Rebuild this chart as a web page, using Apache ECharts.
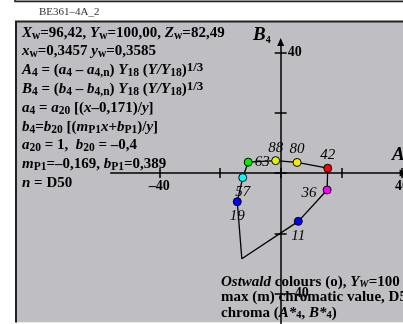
<!DOCTYPE html>
<html><head><meta charset="utf-8">
<script src="https://cdn.jsdelivr.net/npm/echarts@6/dist/echarts.min.js"></script>
<style>html,body{margin:0;padding:0;background:#fff}#c{width:403px;height:324px}</style>
</head><body><div id="c"></div>
<script>
// ---- data ----
const colourLabels = ['63','88','80','42','36','11','','19','57'];
const A4 = [-10.7, -1.65, 5.4, 15.5, 15.3, 5.8, -12.8, -14.3, -12.5];
const B4 = [3.6, 4.1, 3.5, 1.6, -5.6, -16.0, -28.4, -9.5, -1.5];
const hasMarker = [true, true, true, true, true, true, false, true, true];
const tickValues = [-40, -20, 0, 20, 40];
const labelValues = [-40, 40];

// ---- styles ----
const markerColors = ['#00ee00','#e4f200','#f7ec00','#ff0000','#ff00ff','#0000ff',null,'#0000ff','#00ffff'];
const labelPlace = [
  {position:'right', distance:2},
  {position:'top', distance:1},
  {position:'top', distance:1},
  {position:'top', distance:1},
  {position:'left', distance:6, offset:[0,3]},
  {position:'bottom', distance:3},
  null,
  {position:'bottom', distance:2},
  {position:'bottom', distance:2}
];
const GRAY = '#bebec3';
const FONT = 'Liberation Serif';
const fmt = v => labelValues.indexOf(v) < 0 ? '' : (v < 0 ? '\u2013' + (-v) : String(v));

// axis ranges (view extents)
const X_MIN = -56, X_MAX = 40.5, Y_MIN = -50.3, Y_MAX = 43.4;
const GRID = {left:110.7, top:42, width:292.9, height:282.9};
const X0_PX = GRID.left + (0 - X_MIN) / (X_MAX - X_MIN) * GRID.width;
const Y0_PX = GRID.top + (Y_MAX - 0) / (Y_MAX - Y_MIN) * GRID.height;

const chart = echarts.init(document.getElementById('c'), null, {renderer:'canvas'});

const pathData = A4.map((a, i) => [a, B4[i]]);
pathData.push([A4[0], B4[0]]);
const markerData = [];
A4.forEach((a, i) => {
  if (!hasMarker[i]) return;
  const lp = labelPlace[i];
  markerData.push({
    value: [a, B4[i]], name: colourLabels[i],
    itemStyle: {color: markerColors[i]},
    label: Object.assign({show: true}, lp)
  });
});

function richSet(size, subSize, lh, subLh) {
  return {
    i: {fontStyle:'italic', fontWeight:'bold', fontSize:size, fontFamily:FONT, lineHeight:lh, fill:'#000'},
    s: {fontWeight:'bold', fontSize:subSize, fontFamily:FONT, lineHeight:subLh, verticalAlign:'bottom', fill:'#000'},
    is: {fontStyle:'italic', fontWeight:'bold', fontSize:subSize, fontFamily:FONT, lineHeight:subLh, verticalAlign:'bottom', fill:'#000'},
    p: {fontWeight:'bold', fontSize:size-2, fontFamily:FONT, lineHeight:size-3, verticalAlign:'top', fill:'#000'}
  };
}
const rich15 = richSet(15, 11.5, 18, 10);
const richB = richSet(15, 10.5, 16, 9);

const leftLines = [
  '{i|X}{s|w}=96,42, {i|Y}{s|w}=100,00, {i|Z}{s|w}=82,49',
  '{i|x}{s|w}=0,3457 {i|y}{s|w}=0,3585',
  '{i|A}{s|4} = ({i|a}{s|4} \u2013 {i|a}{s|4,n}) {i|Y}{s|18} ({i|Y/Y}{s|18}){p|1/3}',
  '{i|B}{s|4} = ({i|b}{s|4} \u2013 {i|b}{s|4,n}) {i|Y}{s|18} ({i|Y/Y}{s|18}){p|1/3}',
  '{i|a}{s|4} = {i|a}{s|20} [({i|x}\u20130,171)/{i|y}]',
  '{i|b}{s|4}={i|b}{s|20} [({i|m}{s|P1}{i|x}+{i|b}{s|P1})/{i|y}]',
  '{i|a}{s|20} = 1,  {i|b}{s|20} = \u20130,4',
  '{i|m}{s|P1}=\u20130,169, {i|b}{s|P1}=0,389',
  '{i|n} = D50'
];
const bottomLines = [
  '{i|Ostwald} colours (o), {i|Y}{is|W}=100',
  'max (m) chromatic value, D50',
  'chroma ({i|A*}{s|4}, {i|B*}{s|4})'
];

const graphics = [
  {type:'rect', z:-5, shape:{x:15, y:-5, width:400, height:6.5}, style:{fill:GRAY, stroke:'#222', lineWidth:1.5}},
  {type:'rect', z:-5, shape:{x:16, y:21.5, width:400, height:300.8}, style:{fill:GRAY}},
  {type:'polyline', z:-4, shape:{points:[[16,322.5],[16,21.5],[403,21.5]]}, style:{stroke:'#222', lineWidth:2, fill:null}},
  {type:'text', z:20, x:39, y:12, style:{text:'BE361\u20134A_2', fontSize:11, fontFamily:FONT, fill:'#333', verticalAlign:'middle'}},
  {type:'text', z:20, x:253, y:35, style:{text:'{b|B}{s|4}', verticalAlign:'middle',
    rich:{b:{fontStyle:'italic', fontWeight:'bold', fontSize:19, fontFamily:FONT, lineHeight:20, fill:'#000'},
          s:{fontWeight:'bold', fontSize:10, fontFamily:FONT, lineHeight:8, verticalAlign:'bottom', fill:'#000'}}}},
  {type:'text', z:20, x:392, y:155, style:{text:'{b|A}{s|4}', verticalAlign:'middle',
    rich:{b:{fontStyle:'italic', fontWeight:'bold', fontSize:19, fontFamily:FONT, lineHeight:20, fill:'#000'},
          s:{fontWeight:'bold', fontSize:10, fontFamily:FONT, lineHeight:8, verticalAlign:'bottom', fill:'#000'}}}}
];
leftLines.forEach((t, k) => {
  graphics.push({type:'text', z:20, x:22, y:32.7 + k*18.8, style:{text:t, rich:rich15, fontSize:15, fontWeight:'bold', fontFamily:FONT, fill:'#000', lineHeight:18, verticalAlign:'middle'}});
});
bottomLines.forEach((t, k) => {
  graphics.push({type:'text', z:20, x:221, y:282 + k*15.5, style:{text:t, rich:richB, fontSize:15, fontWeight:'bold', fontFamily:FONT, fill:'#000', lineHeight:16, verticalAlign:'middle'}});
});

const axLine = {color:'#000', width:1.5};
const labelStyle = {show:true, color:'#000', fontFamily:FONT, fontWeight:'bold', fontSize:14, formatter: fmt,
  showMinLabel:true, showMaxLabel:true, hideOverlap:false};

const option = {
  animation: false,
  backgroundColor: '#fff',
  textStyle: {fontFamily: FONT},
  grid: Object.assign({containLabel:false, outerBoundsMode:'none'}, GRID),
  xAxis: [
    {type:'value', min:X_MIN, max:X_MAX, position:'bottom', z:6,
     axisLine:{show:true, onZero:true, onZeroAxisIndex:0, lineStyle:axLine, symbol:['none','triangle'], symbolSize:[7,8]},
     axisTick:{show:true, length:5, customValues:tickValues, lineStyle:axLine},
     axisLabel:{show:false}, splitLine:{show:false}},
    {type:'value', min:X_MIN, max:X_MAX, position:'top', z:6,
     axisLine:{show:false, onZero:true, onZeroAxisIndex:0},
     axisTick:{show:true, length:5, customValues:tickValues, lineStyle:axLine},
     axisLabel:{show:false}, splitLine:{show:false}},
    {type:'value', min:X_MIN, max:X_MAX, position:'bottom', z:7, offset: -(GRID.top + GRID.height - Y0_PX),
     axisLine:{show:false, onZero:false}, axisTick:{show:false},
     axisLabel:Object.assign({margin:6}, labelStyle), splitLine:{show:false}}
  ],
  yAxis: [
    {type:'value', min:Y_MIN, max:Y_MAX, position:'right', z:6,
     axisLine:{show:true, onZero:true, onZeroAxisIndex:0, lineStyle:axLine, symbol:['none','triangle'], symbolSize:[7,8]},
     axisTick:{show:true, length:6, customValues:tickValues, lineStyle:axLine},
     axisLabel:{show:false}, splitLine:{show:false}},
    {type:'value', min:Y_MIN, max:Y_MAX, position:'left', z:6,
     axisLine:{show:false, onZero:true, onZeroAxisIndex:0},
     axisTick:{show:true, length:6, customValues:tickValues, lineStyle:axLine},
     axisLabel:{show:false}, splitLine:{show:false}},
    {type:'value', min:Y_MIN, max:Y_MAX, position:'right', z:7, offset: -(GRID.left + GRID.width - X0_PX),
     axisLine:{show:false, onZero:false}, axisTick:{show:false},
     axisLabel:Object.assign({margin:7}, labelStyle), splitLine:{show:false}}
  ],
  series: [
    {type:'line', xAxisIndex:0, yAxisIndex:0, data:pathData, showSymbol:false, symbol:'none', z:8,
     lineStyle:{color:'#000', width:1.3}, silent:true},
    {type:'scatter', xAxisIndex:0, yAxisIndex:0, data:markerData, symbol:'circle', symbolSize:8, z:9,
     itemStyle:{borderColor:'#000', borderWidth:1, opacity:1},
     label:{show:true, formatter:'{b}', color:'#000', fontFamily:FONT, fontStyle:'italic', fontSize:15}}
  ],
  graphic: graphics
};
chart.setOption(option);
</script>
</body></html>
